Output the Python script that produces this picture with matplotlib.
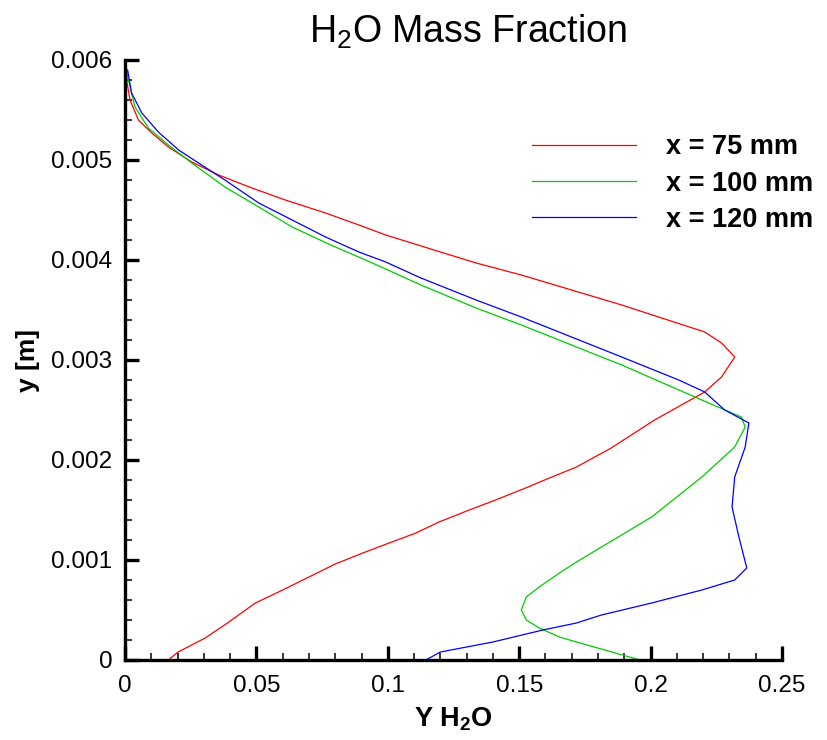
import matplotlib
matplotlib.use("Agg")
import matplotlib.pyplot as plt
import numpy as np

plt.rcParams['font.family'] = ['Liberation Sans', 'DejaVu Sans']
plt.rcParams['mathtext.default'] = 'regular'

# x = 75 mm  (y [m], Y H2O)
y_75 = [0, 0.00008, 0.00022, 0.00037, 0.00057, 0.0007, 0.00083, 0.00096, 0.00107,
        0.00117, 0.00127, 0.00138, 0.0015, 0.0016, 0.00171, 0.00182, 0.00193, 0.00212,
        0.0024, 0.00268, 0.00283, 0.00303, 0.00317, 0.00328, 0.00355, 0.00385, 0.00397,
        0.0041, 0.00425, 0.00435, 0.00447, 0.0046, 0.00472, 0.00485, 0.00498, 0.00513,
        0.00527, 0.0054, 0.0056, 0.0058, 0.0059]
Y_75 = [0.0165, 0.0202, 0.0305, 0.039, 0.0496, 0.060, 0.070, 0.080, 0.0905,
        0.1005, 0.1107, 0.1195, 0.131, 0.141, 0.1515, 0.1615, 0.1718, 0.185,
        0.2015, 0.2206, 0.227, 0.232, 0.227, 0.2206, 0.189, 0.1508, 0.1336,
        0.1176, 0.0992, 0.089, 0.0763, 0.061, 0.0483, 0.0356, 0.0254, 0.0165,
        0.0102, 0.0051, 0.0019, 0.0006, 0.0002]

# x = 100 mm
y_100 = [0, 0.00018, 0.00023, 0.00032, 0.0004, 0.0005, 0.00063, 0.00073, 0.00087,
         0.00098, 0.00113, 0.00143, 0.00183, 0.00213, 0.00233, 0.00243, 0.0026,
         0.00295, 0.00335, 0.00352, 0.00375, 0.00391, 0.004, 0.00415, 0.00433,
         0.00453, 0.00473, 0.00497, 0.00515, 0.00532, 0.00553, 0.00583, 0.0059]
Y_100 = [0.196, 0.1718, 0.1653, 0.1576, 0.1527, 0.1508, 0.1527, 0.1576, 0.1653,
         0.1718, 0.1813, 0.2004, 0.2195, 0.232, 0.236, 0.2345, 0.2195,
         0.189, 0.1508, 0.1336, 0.1126, 0.0992, 0.0915, 0.0783, 0.0636,
         0.0509, 0.038, 0.0254, 0.0165, 0.0089, 0.0038, 0.001, 0.0008]

# x = 120 mm
y_120 = [0, 0.00008, 0.00018, 0.0003, 0.00037, 0.00045, 0.00057, 0.0007, 0.0008,
         0.00092, 0.00123, 0.00153, 0.00183, 0.00213, 0.00237, 0.0025, 0.00268, 0.0028,
         0.00303, 0.00343, 0.0036, 0.00382, 0.00398, 0.00408, 0.00423, 0.0044, 0.00457,
         0.0048, 0.00497, 0.0051, 0.00528, 0.00547, 0.00567, 0.0059]
Y_120 = [0.1145, 0.120, 0.140, 0.159, 0.1718, 0.1813, 0.2004, 0.2195, 0.232,
         0.2366, 0.2336, 0.231, 0.232, 0.236, 0.2374, 0.2282, 0.2206, 0.2107,
         0.189, 0.1508, 0.1336, 0.1126, 0.0992, 0.089, 0.0763, 0.0636, 0.0509,
         0.038, 0.028, 0.0204, 0.0127, 0.0064, 0.0025, 0.001]

labels = ["x = 75 mm", "x = 100 mm", "x = 120 mm"]
colors = ["#ff0000", "#00cc00", "#0000ff"]

xticks = [0, 0.05, 0.1, 0.15, 0.2, 0.25]
xticklabels = ["0", "0.05", "0.1", "0.15", "0.2", "0.25"]
yticks = [0, 0.001, 0.002, 0.003, 0.004, 0.005, 0.006]
yticklabels = ["0", "0.001", "0.002", "0.003", "0.004", "0.005", "0.006"]

fig = plt.figure(figsize=(8.27, 7.40), dpi=100)
ax = fig.add_axes([125/827, 80/740, 657/827, 600/740])

for xs, ys, c, lab in zip([Y_75, Y_100, Y_120], [y_75, y_100, y_120], colors, labels):
    ax.plot(xs, ys, color=c, lw=0.9, label=lab)

ax.set_xlim(0, 0.25)
ax.set_ylim(0, 0.006)
ax.spines['top'].set_visible(False)
ax.spines['right'].set_visible(False)
ax.spines['left'].set_linewidth(2.4)
ax.spines['bottom'].set_linewidth(2.4)

ax.set_xticks(xticks)
ax.set_xticklabels(xticklabels)
ax.set_yticks(yticks)
ax.set_yticklabels(yticklabels)
ax.set_xticks(np.arange(0, 0.2501, 0.01), minor=True)
ax.set_yticks(np.arange(0, 0.00601, 0.0002), minor=True)
ax.tick_params(which='major', direction='in', length=10, width=2.4, labelsize=17.5, pad=11)
ax.tick_params(which='minor', direction='in', length=5, width=1.1)
ax.tick_params(axis='y', pad=9)

ax.set_xlabel("Y H$_2$O", fontsize=19.5, fontweight='bold', labelpad=6)
ax.set_ylabel("y [m]", fontsize=19, fontweight='bold', labelpad=8)
fig.text(468/827, 1 - 32/740, "H$_2$O Mass Fraction", fontsize=27, ha='center', va='center')

ax.legend(loc='upper left', bbox_to_anchor=(0.582, 1 - 50/600), frameon=False,
          prop={'weight': 'bold', 'size': 19.5}, handlelength=3.85,
          handletextpad=1.1, labelspacing=0.38)

fig.savefig("out.png", dpi=100)
